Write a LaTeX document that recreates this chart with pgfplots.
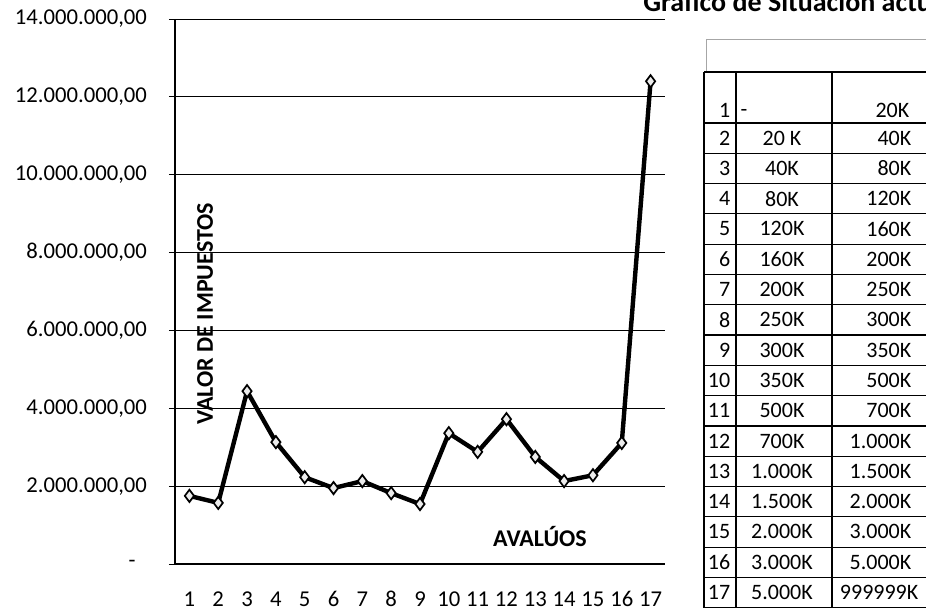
\documentclass[border=0pt]{standalone}
\usepackage{pgfplots}
\pgfplotsset{compat=1.18}
\usepackage{fontspec}
\setmainfont{Carlito}
\begin{document}
\begin{tikzpicture}[x=0.75pt,y=0.75pt]
\begin{axis}[
  at={(131.25pt,35.25pt)}, anchor=south west,
  scale only axis, width=367.5pt, height=408.75pt,
  xmin=0.5, xmax=17.5, ymin=0, ymax=14000000,
  axis x line=bottom, axis y line=left,
  axis line style={-, black, line width=1pt},
  xtick={1,2,3,4,5,6,7,8,9,10,11,12,13,14,15,16,17},
  xticklabels={1,2,3,4,5,6,7,8,9,10,11,12,13,14,15,16,17},
  minor xtick={0.5,1.5,...,17.5},
  xtick style={draw=none},
  minor x tick style={black, line width=0.6pt},
  tick align=outside,
  major tick length=4.5pt, minor tick length=4.5pt,
  ytick={0,2000000,4000000,6000000,8000000,10000000,12000000,14000000},
  yticklabels={{-\hphantom{0}},{2.000.000,00},{4.000.000,00},{6.000.000,00},{8.000.000,00},{10.000.000,00},{12.000.000,00},{14.000.000,00}},
  scaled y ticks=false,
  ytick style={black, line width=0.6pt},
  ymajorgrids, major grid style={black, line width=0.6pt},
  yticklabel style={font=\fontsize{17}{20}\selectfont, anchor=east, xshift=-13pt},
  xticklabel style={font=\fontsize{17}{20}\selectfont, anchor=center, yshift=-22pt},
  clip=false,
]
\addplot[black, line width=3.3pt, mark=diamond*, mark size=4.6pt,
  mark options={fill=gray!15, draw=black, line width=1.3pt, solid}] coordinates {
(1,1750000) (2,1570000) (3,4440000) (4,3130000) (5,2230000) (6,1950000)
(7,2130000) (8,1820000) (9,1540000) (10,3360000) (11,2880000) (12,3720000)
(13,2750000) (14,2130000) (15,2280000) (16,3110000) (17,12400000)};
\end{axis}
% labels inside the plot
\node[rotate=90, font=\fontsize{18}{21}\selectfont\bfseries] at (205,297) {VALOR DE IMPUESTOS};
\node[font=\fontsize{18}{21}\selectfont\bfseries] at (540,74) {AVALÚOS};
% title (cut by the top edge)
\node[anchor=base west, inner sep=0pt, font=\fontsize{21}{25}\selectfont\bfseries] at (643,599) {Gráfico de Situación actual};
% table
\draw[gray!70, line width=0.6pt] (706,572) -- (940,572);
\draw[gray!70, line width=0.6pt] (706,572) -- (706,539);
\draw[black, line width=0.9pt] (704,539) -- (940,539);
\draw[black, line width=0.9pt] (704,539) -- (704,3.2);
\draw[black, line width=1.5pt] (736,539) -- (736,3.2);
\draw[black, line width=1.5pt] (832,539) -- (832,3.2);
\foreach \k in {2,...,18} {
  \draw[black, line width=0.9pt] (704,{488-(\k-2)*30.3}) -- (940,{488-(\k-2)*30.3});
}
\node[anchor=east, font=\fontsize{16.5}{19}\selectfont] at (735,501) {1};
\node[anchor=west, font=\fontsize{16.5}{19}\selectfont] at (736,498) {-};
\node[anchor=east, font=\fontsize{16.5}{19}\selectfont] at (914,501) {20K};
\foreach \k/\a/\b in {2/20 K/40K, 3/40K/80K, 4/80K/120K, 5/120K/160K, 6/160K/200K, 7/200K/250K, 8/250K/300K, 9/300K/350K, 10/350K/500K, 11/500K/700K, 12/700K/1.000K, 13/1.000K/1.500K, 14/1.500K/2.000K, 15/2.000K/3.000K, 16/3.000K/5.000K} {
  \node[anchor=east, font=\fontsize{16.5}{19}\selectfont] at (735,{473-(\k-2)*30.3}) {\k};
  \node[font=\fontsize{16.5}{19}\selectfont] at (782,{473-(\k-2)*30.3}) {\a};
  \node[anchor=east, font=\fontsize{16.5}{19}\selectfont] at (916,{473-(\k-2)*30.3}) {\b};
}
\node[anchor=east, font=\fontsize{16.5}{19}\selectfont] at (735,{473-15*30.3}) {17};
\node[font=\fontsize{16.5}{19}\selectfont] at (782,{473-15*30.3}) {5.000K};
\node[anchor=east, font=\fontsize{16.5}{19}\selectfont] at (923,{473-15*30.3}) {999999K};
\pgfresetboundingbox
\useasboundingbox (0,0) rectangle (926,611);
\end{tikzpicture}
\end{document}
